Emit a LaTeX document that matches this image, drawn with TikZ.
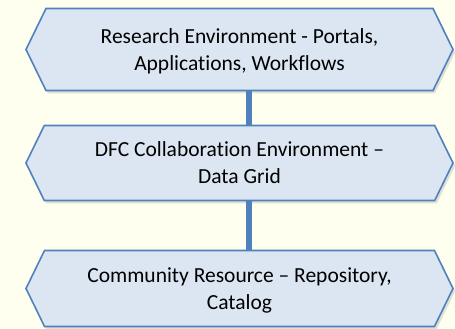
\documentclass[tikz,border=0pt]{standalone}
\usepackage{fontspec}
\setmainfont{Carlito}[Ligatures={TeX,NoCommon}]
\usepackage{tikz}
\usetikzlibrary{shapes.symbols,shadows}

\definecolor{paper}{HTML}{FFFFF0}
\definecolor{boxfill}{HTML}{DCE6F2}
\definecolor{boxline}{HTML}{4F81BD}

\tikzset{
  layer/.style={signal, signal to=west and east, signal pointer angle=128,
    draw=boxline, line width=1.6pt, fill=boxfill, align=center,
    minimum width=427pt, inner sep=0pt, text depth=0pt,
    font=\fontsize{21.5}{27}\selectfont,
    drop shadow={shadow xshift=2pt, shadow yshift=-3pt, opacity=.2, fill=black!60}},
  link/.style={boxline, line width=5.5pt}
}

\begin{document}
\begin{tikzpicture}[x=1pt,y=1pt]
\fill[paper] (0,0) rectangle (455,329);
\node[layer, minimum height=82pt] (research) at (239.5,279.5) {Research Environment - Portals,\\Applications, Workflows};
\node[layer, minimum height=75pt] (grid) at (239.5,166) {DFC Collaboration Environment --\\Data Grid};
\node[layer, minimum height=76pt] (resource) at (239.5,40.5) {Community Resource -- Repository,\\Catalog};
\draw[link] ([xshift=9.5pt]research.south) -- ([xshift=9.5pt]grid.north);
\draw[link] ([xshift=9.5pt]grid.south) -- ([xshift=9.5pt]resource.north);
\end{tikzpicture}
\end{document}
